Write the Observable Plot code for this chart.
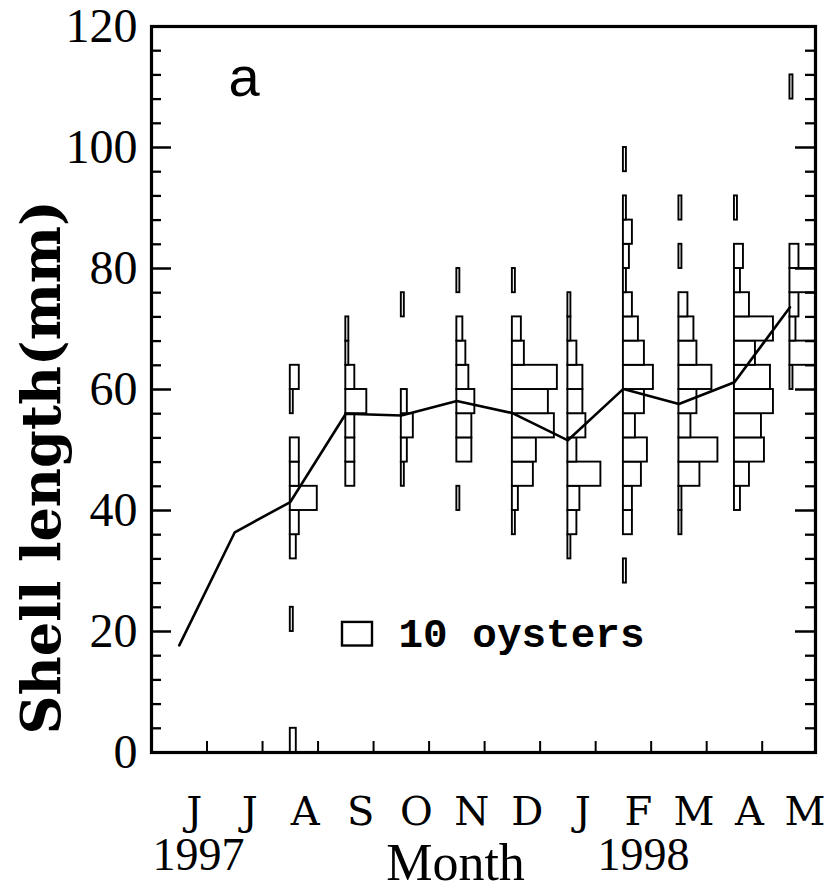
<!DOCTYPE html>
<html><head><meta charset="utf-8">
<script src="https://cdn.jsdelivr.net/npm/d3@7"></script>
<script src="https://cdn.jsdelivr.net/npm/@observablehq/plot@0.6"></script>
<style>body{margin:0;background:#fff}</style>
</head><body><div id="chart"></div>
<script>
// ---- data ----
const sampleMonths = ["Jun","Jul","Aug","Sep","Oct","Nov","Dec","Jan","Feb","Mar","Apr","May"];
const meanLength = [17.7, 36.4, 41.4, 56.0, 55.7, 58.1, 56.1, 51.6, 60.1, 57.6, 61.2, 73.6];
// histograms: [lower bin edge (mm), number of oysters], 4-mm bins
const histAug = [[0,2],[20,1],[32,2],[36,3],[40,9],[44,3],[48,3],[56,1],[60,3]];
const histSep = [[44,3],[48,3],[52,3],[56,7],[60,3],[64,1],[68,1]];
const histOct = [[44,1],[48,2],[52,4],[56,2],[72,1]];
const histNov = [[40,1],[48,5],[52,5],[56,6],[60,4],[64,3],[68,2],[76,1]];
const histDec = [[36,1],[40,2],[44,7],[48,8],[52,14],[56,12],[60,15],[64,4],[68,3],[76,1]];
const histJan = [[32,1],[36,3],[40,4],[44,11],[48,3],[52,6],[56,5],[60,5],[64,3],[68,1],[72,1]];
const histFeb = [[28,1],[36,3],[40,3],[44,6],[48,8],[52,4],[56,7],[60,10],[64,7],[68,5],[72,3],[76,1],[80,2],[84,3],[88,1],[96,1]];
const histMar = [[36,1],[40,1],[44,7],[48,13],[52,4],[56,6],[60,11],[64,6],[68,5],[72,3],[80,1],[88,1]];
const histApr = [[40,2],[44,5],[48,10],[52,9],[56,13],[60,12],[64,7],[68,13],[72,5],[76,2],[80,3],[88,1]];
const histMay = [[60,1],[64,9],[68,2],[72,3],[76,10],[80,3],[108,1]];
const binSize = 4;
const legendCount = 10;
const monthTickLabels = ["J","J","A","S","O","N","D","J","F","M","A","M"];
const yearLabels = ["1997","1998"];
const yTickValues = [0,20,40,60,80,100,120];

// ---- layout ----
const W = 824, H = 892, mL = 151, mR = 9, mT = 26, mB = 140;
const plotW = W - mL - mR, plotH = H - mT - mB;
const xMax = 11.96;
const pxPerMonth = plotW / xMax;
const oysterUnit = 3 / pxPerMonth;

const histograms = [
  ["Aug", histAug], ["Sep", histSep], ["Oct", histOct], ["Nov", histNov], ["Dec", histDec],
  ["Jan", histJan], ["Feb", histFeb], ["Mar", histMar], ["Apr", histApr], ["May", histMay]
];
const rows = histograms.flatMap(([mon, bins]) => {
  const m = sampleMonths.indexOf(mon) + 0.5;
  return bins.map(([lo, n]) => ({m, lo, hi: lo + binSize, n}));
});
const yMinor = d3.range(0, 121, 4).filter(v => v % 20 !== 0);
const monthBoundaries = d3.range(1, 12);
const legendX = (342 - mL) / pxPerMonth;
const legendTextX = (398 - mL) / pxPerMonth;

const chart = Plot.plot({
  width: W, height: H,
  marginLeft: mL, marginRight: mR, marginTop: mT, marginBottom: mB,
  x: {domain: [0, xMax], axis: null},
  y: {domain: [0, 120], axis: null},
  style: {fontFamily: "Liberation Serif", color: "black", background: "white", overflow: "visible"},
  marks: [
    Plot.rect(rows, {x1: "m", x2: d => d.m + d.n * oysterUnit, y1: "lo", y2: "hi",
      fill: "white", stroke: "black", strokeWidth: 1.9, clip: true}),
    Plot.line(meanLength, {x: (d, i) => i + 0.5, y: d => d, stroke: "black", strokeWidth: 2.6}),
    Plot.tickY(yTickValues, {y: d => d, insetRight: plotW - 20, stroke: "black", strokeWidth: 2.5}),
    Plot.tickY(yTickValues, {y: d => d, insetLeft: plotW - 20, stroke: "black", strokeWidth: 2.5}),
    Plot.tickY(yMinor, {y: d => d, insetRight: plotW - 10, stroke: "black", strokeWidth: 2.3}),
    Plot.tickY(yMinor, {y: d => d, insetLeft: plotW - 10, stroke: "black", strokeWidth: 2.3}),
    Plot.tickX(monthBoundaries, {x: d => d, insetTop: plotH - 11, stroke: "black", strokeWidth: 2}),
    Plot.frame({stroke: "black", strokeWidth: 3.2}),
    Plot.axisY(yTickValues, {tickSize: 0, tickPadding: 14, fontSize: 48, fontFamily: "Liberation Serif", label: null}),
    Plot.text(monthTickLabels, {x: (d, i) => i + 0.77, text: d => d, frameAnchor: "bottom", lineAnchor: "bottom",
      textAnchor: "middle", dy: 72, fontSize: 40, fontFamily: "DejaVu Serif"}),
    Plot.text([yearLabels[0]], {frameAnchor: "bottom-left", dx: 198 - mL, dy: 117, lineAnchor: "bottom",
      textAnchor: "middle", fontSize: 46, fontFamily: "Liberation Serif"}),
    Plot.text([yearLabels[1]], {frameAnchor: "bottom-left", dx: 643 - mL, dy: 117, lineAnchor: "bottom",
      textAnchor: "middle", fontSize: 46, fontFamily: "Liberation Serif"}),
    Plot.text(["Month"], {frameAnchor: "bottom-left", dx: 455 - mL, dy: 127, lineAnchor: "bottom",
      textAnchor: "middle", fontSize: 52, fontFamily: "Liberation Serif"}),
    Plot.text(["Shell length(mm)"], {frameAnchor: "left", dx: -109, dy: 78, rotate: -90,
      textAnchor: "middle", fontSize: 54, fontWeight: "bold", fontFamily: "DejaVu Serif"}),
    Plot.text(["a"], {frameAnchor: "top-left", dx: 77, dy: 69, textAnchor: "start", lineAnchor: "bottom",
      fontSize: 56, fontFamily: "Liberation Sans"}),
    Plot.rect([legendCount], {x1: legendX, x2: d => legendX + d * oysterUnit, y1: 17.6, y2: 21.5,
      fill: "white", stroke: "black", strokeWidth: 2.4}),
    Plot.text([legendCount + " oysters"], {x: legendTextX, y: 17.4, textAnchor: "start", lineAnchor: "bottom",
      fontSize: 41, fontWeight: "bold", fontFamily: "Liberation Mono"})
  ]
});
document.getElementById("chart").appendChild(chart);
</script>
</body></html>
